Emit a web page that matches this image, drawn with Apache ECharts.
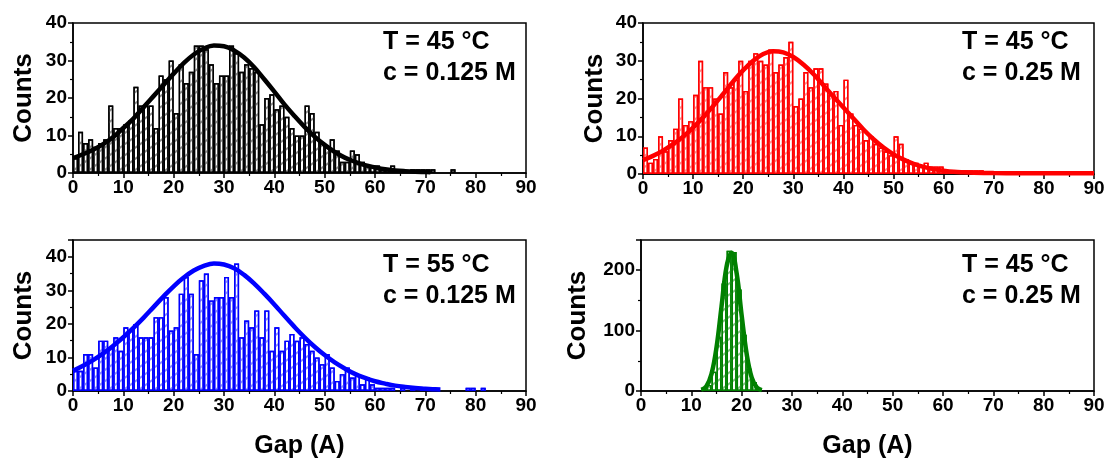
<!DOCTYPE html>
<html><head><meta charset="utf-8">
<script src="https://cdn.jsdelivr.net/npm/echarts@6/dist/echarts.min.js"></script>
<style>html,body{margin:0;padding:0;background:#fff}#c{width:1109px;height:461px}</style>
</head><body><div id="c"></div>
<script>
// ---- data (bin width 1 Å; value = count in bin [start+i, start+i+1]) ----
const gapTicks = [0, 10, 20, 30, 40, 50, 60, 70, 80, 90];

const binStartA = 0; // T = 45 °C, c = 0.125 M (black)
const countsA = [4, 11, 8, 9, 7, 8, 9, 18, 12, 12, 13, 14, 23, 18, 18, 18, 12, 26, 25, 30,
  16, 29, 24, 27, 34, 34, 33, 29, 24, 26, 26, 34, 32, 27, 29, 28, 27, 13, 20, 21,
  17, 18, 15, 12, 10, 10, 18, 16, 11, 8, 7, 9, 6, 3, 3, 6, 5, 3, 2, 2,
  2, 1, 1, 2, 1, 1, 0, 1, 1, 1, 1, 1, 0, 0, 0, 1];
const fitXA = [0, 2, 4, 6, 8, 10, 12, 14, 16, 18, 20, 22, 24, 26, 28, 30, 32, 34, 36, 38, 40,
  42, 44, 46, 48, 50, 52, 54, 56, 58, 60, 62, 64, 66, 68, 70, 71];
const fitYA = [4, 5, 6.2, 7.7, 9.6, 12, 14.5, 17.5, 20.5, 23.5, 26.5, 29.3, 31.6, 33.2, 34, 33.8,
  32.7, 30.8, 28.2, 25, 21.7, 18.3, 15.2, 12.3, 9.7, 7.5, 5.6, 4.1, 3, 2.1, 1.5, 1, 0.7, 0.5, 0.35, 0.25, 0.2];

const binStartB = 0; // T = 45 °C, c = 0.25 M (red)
const countsB = [7, 3, 4, 10, 6, 9, 12, 20, 13, 14, 21, 30, 23, 23, 20, 16, 27, 23, 25, 30,
  22, 30, 32, 30, 29, 33, 27, 29, 31, 35, 18, 20, 27, 23, 28, 28, 24, 21, 22, 13,
  25, 16, 13, 12, 9, 10, 8, 7, 6, 5, 10, 8, 4, 3, 3, 2, 3, 2, 2, 2,
  1, 1, 1, 0, 1, 1, 1, 1];
const fitXB = [0, 2, 4, 6, 8, 10, 12, 14, 16, 18, 20, 22, 24, 26, 28, 30, 32, 34, 36, 38, 40,
  42, 44, 46, 48, 50, 52, 54, 56, 58, 60, 62, 64, 66, 70, 75, 80, 90];
const fitYB = [3.7, 4.8, 6.2, 7.9, 9.9, 12.3, 15, 18, 21.2, 24.5, 27.5, 30, 31.8, 32.5, 32.2, 31,
  29, 26.5, 23.5, 20.5, 17.6, 14.7, 11.8, 9.2, 7, 5.2, 3.8, 2.7, 1.9, 1.3, 0.9, 0.6, 0.45, 0.35,
  0.25, 0.2, 0.2, 0.2];

const binStartC = 0; // T = 55 °C, c = 0.125 M (blue)
const countsC = [6, 6, 11, 11, 7, 15, 15, 13, 16, 12, 19, 18, 20, 16, 16, 16, 22, 22, 28, 18,
  19, 29, 34, 29, 11, 33, 35, 27, 28, 28, 34, 28, 38, 16, 21, 19, 24, 16, 24, 12,
  19, 12, 15, 17, 15, 16, 14, 12, 10, 8, 11, 7, 3, 5, 7, 4, 5, 2, 4, 2,
  1, 1, 1, 1, 0, 1, 0, 1, 0, 1, 0, 1, 0, 0, 0, 0, 0, 0, 1, 1, 0, 1];
const fitXC = [0, 2, 4, 6, 8, 10, 12, 14, 16, 18, 20, 22, 24, 26, 28, 30, 32, 34, 36, 38, 40,
  42, 44, 46, 48, 50, 52, 54, 56, 58, 60, 62, 64, 66, 68, 70, 72, 73];
const fitYC = [6, 7.5, 9.2, 11.2, 13.5, 16, 18.8, 21.8, 25, 28.2, 31.2, 33.8, 35.9, 37.3, 38, 37.7,
  36.6, 34.6, 32, 29, 25.8, 22.4, 19.1, 16, 13.2, 10.7, 8.5, 6.7, 5.1, 3.9, 2.9, 2.2, 1.6, 1.2,
  0.9, 0.7, 0.5, 0.45];

const binStartD = 12; // T = 45 °C, c = 0.25 M (green)
const countsD = [3, 10, 32, 90, 178, 232, 230, 168, 93, 37, 15, 4];
const fitXD = [12, 13, 14, 15, 16, 17, 18, 19, 20, 21, 22, 23, 24];
const fitYD = [2, 8, 28, 72, 140, 206, 229, 195, 125, 61, 22, 6, 1.3];

const labelsT = ['T = 45 °C', 'T = 45 °C', 'T = 55 °C', 'T = 45 °C'];
const labelsC = ['c = 0.125 M', 'c = 0.25 M', 'c = 0.125 M', 'c = 0.25 M'];
const yMax = [40, 40, 45, 250];
const yInterval = [10, 10, 10, 100];

// ---- chart ----
const FONT = 'Liberation Sans, Arial, sans-serif';
const panels = [
  {start: binStartA, counts: countsA, fx: fitXA, fy: fitYA, color: '#000000', hatch: '#8a8a8a'},
  {start: binStartB, counts: countsB, fx: fitXB, fy: fitYB, color: '#ff0000', hatch: '#ff8c8c'},
  {start: binStartC, counts: countsC, fx: fitXC, fy: fitYC, color: '#0000ff', hatch: '#8c8cff'},
  {start: binStartD, counts: countsD, fx: fitXD, fy: fitYD, color: '#008000', hatch: '#7fc07f'}
];
const gridPos = [
  {left: 73, top: 23, width: 453, height: 150},
  {left: 643, top: 23, width: 451, height: 151},
  {left: 73, top: 240, width: 453, height: 151},
  {left: 641, top: 240, width: 453, height: 151}
];
const nameGaps = [36, 35, 36, 50];

const grid = gridPos.map(g => Object.assign({show: true, borderColor: '#000', borderWidth: 1.5,
  backgroundColor: 'transparent', containLabel: false}, g));

const xAxis = gridPos.map((g, i) => ({
  type: 'value', gridIndex: i, min: gapTicks[0], max: gapTicks[gapTicks.length - 1],
  interval: gapTicks[1] - gapTicks[0],
  name: i >= 2 ? 'Gap (A)' : '', nameLocation: 'middle', nameGap: 43,
  nameTextStyle: {fontFamily: FONT, fontWeight: 'bold', fontSize: 25, color: '#000'},
  axisLine: {show: true, onZero: false, lineStyle: {color: '#000', width: 1.5}},
  axisTick: {show: true, length: 5, lineStyle: {color: '#000', width: 1.5}},
  minorTick: {show: true, splitNumber: 2, length: 3, lineStyle: {color: '#000', width: 1.2}},
  splitLine: {show: false},
  axisLabel: {fontFamily: FONT, fontWeight: 'bold', fontSize: 19, color: '#000', margin: 5}
}));

const yAxis = gridPos.map((g, i) => ({
  type: 'value', gridIndex: i, min: 0, max: yMax[i], interval: yInterval[i],
  name: 'Counts', nameLocation: 'middle', nameGap: nameGaps[i],
  nameTextStyle: {fontFamily: FONT, fontWeight: 'bold', fontSize: 26, color: '#000'},
  axisLine: {show: true, lineStyle: {color: '#000', width: 1.5}},
  axisTick: {show: true, length: 5, lineStyle: {color: '#000', width: 1.5}},
  minorTick: {show: true, splitNumber: 2, length: 3, lineStyle: {color: '#000', width: 1.2}},
  splitLine: {show: false},
  axisLabel: {fontFamily: FONT, fontWeight: 'bold', fontSize: 19, color: '#000', margin: 6,
    showMaxLabel: yMax[i] % yInterval[i] === 0}
}));

const series = [];
panels.forEach((p, i) => {
  const barData = [];
  p.counts.forEach((c, k) => { if (c > 0) barData.push([p.start + k + 0.5, c]); });
  series.push({
    type: 'bar', xAxisIndex: i, yAxisIndex: i, data: barData, barWidth: '100%',
    itemStyle: {
      color: '#ffffff', borderColor: p.color, borderWidth: 1.4,
      decal: {symbol: 'rect', symbolSize: 1, dashArrayX: [1, 0], dashArrayY: [1.3, 7],
        rotation: -Math.PI / 5, color: p.hatch}
    },
    emphasis: {disabled: true}, silent: true, z: 2
  });
  series.push({
    type: 'line', xAxisIndex: i, yAxisIndex: i, smooth: 0.4, showSymbol: false,
    data: p.fx.map((x, k) => [x, p.fy[k]]),
    lineStyle: {color: p.color, width: 4.5}, itemStyle: {color: p.color},
    silent: true, z: 3
  });
});

const textX = [383, 962, 383, 962];
const textY1 = [44, 44, 267, 267];
const textY2 = [75, 75, 298, 298];
const graphic = [];
for (let i = 0; i < 4; i++) {
  graphic.push({type: 'text', left: textX[i], top: textY1[i] - 14,
    style: {text: labelsT[i], font: 'bold 25px ' + FONT, fill: '#000'}, z: 10});
  graphic.push({type: 'text', left: textX[i], top: textY2[i] - 14,
    style: {text: labelsC[i], font: 'bold 25px ' + FONT, fill: '#000'}, z: 10});
}

const chart = echarts.init(document.getElementById('c'), null, {renderer: 'canvas'});
chart.setOption({
  animation: false, backgroundColor: '#ffffff',
  grid, xAxis, yAxis, series, graphic
});
</script>
</body></html>
